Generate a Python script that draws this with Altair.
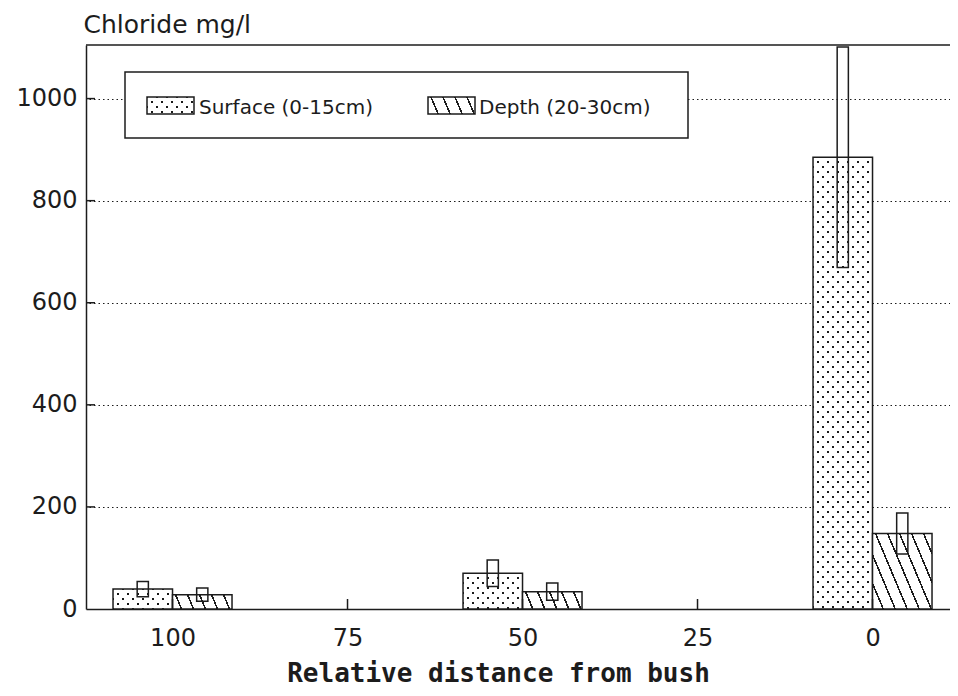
import math
import altair as alt
import pandas as pd

# ---------------- data ----------------
distance = [100, 50, 0]
surface_mean = [39, 70, 885]
surface_err = [15, 26, 216]
depth_mean = [28, 34, 148]
depth_err = [13, 17, 40]
series_names = ["Surface (0-15cm)", "Depth (20-30cm)"]
x_tick_values = [100, 75, 50, 25, 0]
y_tick_values = [0, 200, 400, 600, 800, 1000]
y_title = "Chloride mg/l"
x_title = "Relative distance from bush"

# ---------------- layout / style ----------------
W, H = 864, 564
X_LEFT = 112.36
PX_X = 7.0
X_MIN, X_MAX = X_LEFT - W / PX_X, X_LEFT
Y_MAX = 1105
BAR_W = 8.5          # bar width in x units
ERR_W = 1.6          # error box width in x units
PX_Y = H / Y_MAX
INK = "#1c1c1c"
CLEAR = "rgba(255,255,255,0)"
FONT = "DejaVu Sans"

rows = []
for d, m, e in zip(distance, surface_mean, surface_err):
    rows.append({"series": series_names[0], "distance": d, "mean": m, "err": e, "side": 1})
for d, m, e in zip(distance, depth_mean, depth_err):
    rows.append({"series": series_names[1], "distance": d, "mean": m, "err": e, "side": -1})
df = pd.DataFrame(rows)
one = pd.DataFrame({"k": [0]})


def line_family(w, h, a, period, width, phase, line_color, bg):
    """Linear gradient (bbox units) drawing parallel lines q = x - a*y = phase + k*period."""
    corners = [(0, 0), (1, 0), (0, 1), (1, 1)]
    qs = [(w * u - a * h * v, (u, v)) for u, v in corners]
    qmin, smin = min(qs)
    qmax = max(q for q, _ in qs)
    span = qmax - qmin
    lam = span / (w * w + a * a * h * h)
    x1, y1 = smin
    x2, y2 = x1 + lam * w, y1 - lam * a * h
    stops = [{"offset": 0.0, "color": bg}]
    k = math.floor((qmin - phase - width) / period)
    while True:
        q = phase + k * period
        if q - width / 2 > qmax:
            break
        s0 = round(max(0.0, min(1.0, (q - width / 2 - qmin) / span)), 5)
        s1 = round(max(0.0, min(1.0, (q + width / 2 - qmin) / span)), 5)
        if s1 > s0:
            stops += [{"offset": s0, "color": bg}, {"offset": s0, "color": line_color},
                      {"offset": s1, "color": line_color}, {"offset": s1, "color": bg}]
        k += 1
    stops.append({"offset": 1.0, "color": bg})
    return {"gradient": "linear", "x1": round(x1, 5), "y1": round(y1, 5),
            "x2": round(x2, 5), "y2": round(y2, 5), "stops": stops}


def hatch(w, h):
    return line_family(w, h, 0.42, 12.0, 1.7, 3.0, INK, "white")


def dots_a(w, h):
    return line_family(w, h, 1.0, 10.0, 2.9, 0.0, CLEAR, "white")


def dots_b(w, h):
    return line_family(w, h, -1.0, 10.0, 2.9, 0.0, CLEAR, "white")


xscale = alt.Scale(domain=[X_MIN, X_MAX], reverse=True, nice=False, zero=False)
yscale = alt.Scale(domain=[0, Y_MAX], nice=False, zero=False)

base = alt.Chart(df).transform_calculate(
    x_edge=f"datum.distance + datum.side * {BAR_W}",
    e_lo=f"datum.distance + datum.side * {BAR_W / 2} - {ERR_W / 2}",
    e_hi=f"datum.distance + datum.side * {BAR_W / 2} + {ERR_W / 2}",
    y_lo="datum.mean - datum.err",
    y_hi="datum.mean + datum.err",
    zero="0",
)

x_axis = alt.Axis(values=x_tick_values, format="d", ticks=False, grid=False,
                  domainColor=INK, domainWidth=1.5,
                  labelFont=FONT, labelFontSize=24, labelColor=INK, labelPadding=17,
                  title=x_title, titleFont="DejaVu Sans Mono", titleFontWeight="bold",
                  titleFontSize=26, titleColor=INK, titleAlign="center",
                  titleBaseline="alphabetic", titleX=412, titleY=72)
y_axis = alt.Axis(values=y_tick_values, format="d", ticks=False, grid=True,
                  gridColor=INK, gridDash=[1.5, 3], gridWidth=1.2,
                  domainColor=INK, domainWidth=1.5,
                  labelFont=FONT, labelFontSize=24, labelColor=INK, labelPadding=9,
                  labelBaseline="middle",
                  title=y_title, titleFont=FONT, titleFontSize=25, titleFontWeight="normal",
                  titleColor=INK, titleAngle=0, titleAlign="left", titleBaseline="alphabetic",
                  titleX=-3, titleY=-13)


def bar_enc():
    return dict(
        x=alt.X("x_edge:Q", scale=xscale, axis=x_axis),
        x2="distance:Q",
        y=alt.Y("mean:Q", scale=yscale, axis=y_axis),
        y2="zero:Q",
    )


layers = []
bw = BAR_W * PX_X
for s_idx, means in enumerate([surface_mean, depth_mean]):
    for d, m in zip(distance, means):
        h = m * PX_Y
        filt = base.transform_filter(
            f"datum.series == '{series_names[s_idx]}' && datum.distance == {d}")
        if s_idx == 0:
            layers.append(filt.mark_rect(fill="#1a1a1a", strokeWidth=0).encode(**bar_enc()))
            layers.append(filt.mark_rect(fill=dots_a(bw, h), strokeWidth=0).encode(**bar_enc()))
            layers.append(filt.mark_rect(fill=dots_b(bw, h), stroke=INK, strokeWidth=1.5)
                          .encode(**bar_enc()))
        else:
            layers.append(filt.mark_rect(fill=hatch(bw, h), stroke=INK, strokeWidth=1.5)
                          .encode(**bar_enc()))

# error boxes
layers.append(base.mark_rect(fillOpacity=0, stroke=INK, strokeWidth=1.5).encode(
    x=alt.X("e_lo:Q", scale=xscale, axis=x_axis), x2="e_hi:Q",
    y=alt.Y("y_lo:Q", scale=yscale, axis=y_axis), y2="y_hi:Q"))

# inward ticks
ytick_df = pd.DataFrame({"v": y_tick_values[1:]})
xtick_df = pd.DataFrame({"v": x_tick_values})
layers.append(alt.Chart(ytick_df).mark_rule(color=INK, strokeWidth=1.5).encode(
    y=alt.Y("v:Q", scale=yscale, axis=y_axis), x=alt.value(0), x2=alt.value(9)))
layers.append(alt.Chart(xtick_df).mark_rule(color=INK, strokeWidth=1.5).encode(
    x=alt.X("v:Q", scale=xscale, axis=x_axis), y=alt.value(H), y2=alt.value(H - 10)))

# top frame line
layers.append(alt.Chart(one).mark_rule(color=INK, strokeWidth=1.5).encode(
    x=alt.value(0), x2=alt.value(W), y=alt.value(0)))

# legend box
layers.append(alt.Chart(one).mark_rect(fill="white", stroke=INK, strokeWidth=1.5).encode(
    x=alt.value(39), x2=alt.value(602), y=alt.value(27), y2=alt.value(93)))
SW_W, SW_H = 47, 17
sx1, sx2, sy = 61, 342, 52
layers.append(alt.Chart(one).mark_rect(fill="#1a1a1a", strokeWidth=0).encode(
    x=alt.value(sx1), x2=alt.value(sx1 + SW_W), y=alt.value(sy), y2=alt.value(sy + SW_H)))
layers.append(alt.Chart(one).mark_rect(fill=dots_a(SW_W, SW_H), strokeWidth=0).encode(
    x=alt.value(sx1), x2=alt.value(sx1 + SW_W), y=alt.value(sy), y2=alt.value(sy + SW_H)))
layers.append(alt.Chart(one).mark_rect(fill=dots_b(SW_W, SW_H), stroke=INK, strokeWidth=1.5).encode(
    x=alt.value(sx1), x2=alt.value(sx1 + SW_W), y=alt.value(sy), y2=alt.value(sy + SW_H)))
layers.append(alt.Chart(one).mark_rect(fill=hatch(SW_W, SW_H), stroke=INK, strokeWidth=1.5).encode(
    x=alt.value(sx2), x2=alt.value(sx2 + SW_W), y=alt.value(sy), y2=alt.value(sy + SW_H)))
layers.append(alt.Chart(one).mark_text(align="left", baseline="alphabetic", font=FONT,
                                       fontSize=20, color=INK).encode(
    x=alt.value(sx1 + SW_W + 5), y=alt.value(69), text=alt.value(series_names[0])))
layers.append(alt.Chart(one).mark_text(align="left", baseline="alphabetic", font=FONT,
                                       fontSize=20, color=INK).encode(
    x=alt.value(sx2 + SW_W + 4), y=alt.value(69), text=alt.value(series_names[1])))

chart = alt.layer(*layers).properties(
    width=W, height=H,
    autosize=alt.AutoSizeParams(type="none"),
    padding={"left": 78, "top": 37, "right": 0, "bottom": 79},
    background="white",
).configure_view(strokeOpacity=0)

chart.save("out.html", embed_options={"renderer": "svg", "actions": False})
